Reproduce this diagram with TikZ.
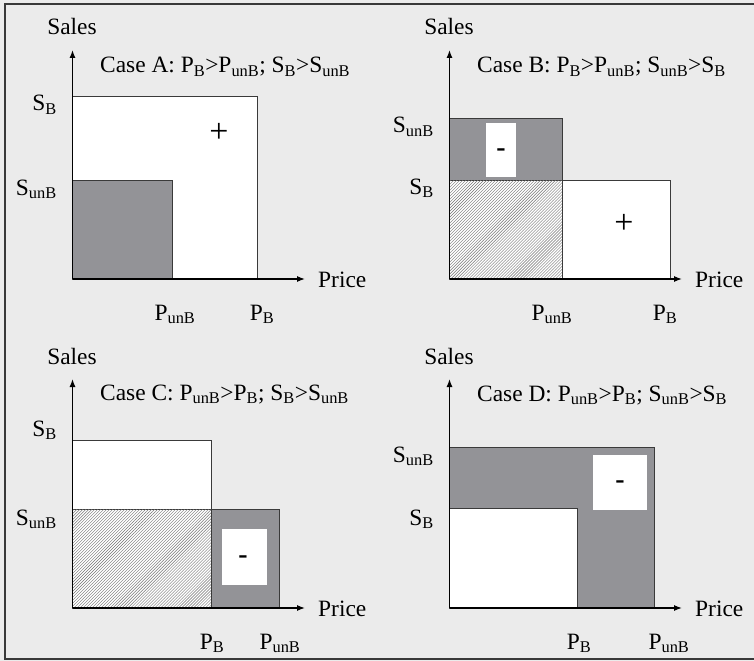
\documentclass[tikz,border=0pt]{standalone}
\usepackage{fontspec}
\setmainfont{Liberation Serif}
\usetikzlibrary{arrows.meta,patterns}

\definecolor{panelbg}{HTML}{EBEBEB}
\definecolor{shade}{HTML}{939397}
\definecolor{edge}{HTML}{3A3A3A}

\newcommand{\PB}{P\textsubscript{B}}
\newcommand{\PunB}{P\textsubscript{unB}}
\newcommand{\SB}{S\textsubscript{B}}
\newcommand{\SunB}{S\textsubscript{unB}}

\tikzset{
  axis/.style={line width=1.2bp, -{Latex[length=8bp,width=6bp]}},
  plainbox/.style={draw=edge, line width=1bp, fill=white},
  shadebox/.style={draw=edge, line width=1bp, fill=shade},
  hatchbox/.style={draw=edge, line width=1bp, fill=white,
    postaction={pattern=north east lines, pattern color=black!55}},
  signbox/.style={fill=white},
  lab/.style={inner sep=0pt, font=\fontsize{23.5}{28}\selectfont},
  plus/.style={inner sep=0pt, font=\fontsize{34}{34}\selectfont},
  minus/.style={inner sep=0pt, font=\fontsize{28}{28}\selectfont\bfseries}
}

\begin{document}
\begin{tikzpicture}[x=1bp, y=-1bp]
\useasboundingbox (0,0) rectangle (754,661);
\fill[panelbg] (0,0) rectangle (754,661);
\draw[gray!45!black, line width=1.5bp] (754,4) -- (5,4) -- (5,659) -- (754,659);

% Case A
\begin{scope}
\draw[plainbox] (72.5,97) rectangle (257,279);
\draw[shadebox] (72.5,180) rectangle (172,279);
\node[plus] (plusA) at (219,133) {+};
\coordinate (oA) at (72.5,279);
\coordinate (yA) at (72.5,50);
\coordinate (xA) at (305,279);
\draw[axis] (oA) -- (yA);
\draw[axis] (oA) -- (xA);
\node[lab, anchor=base] (salesA) at (72,35) {Sales};
\node[lab, anchor=base west] (caseA) at (100,73) {Case A: \PB>\PunB; \SB>\SunB};
\node[lab, anchor=base east] (sbA) at (57,111) {\SB};
\node[lab, anchor=base east] (sunbA) at (57,195) {\SunB};
\node[lab, anchor=base] (punbA) at (175,320) {\PunB};
\node[lab, anchor=base] (pbA) at (262,320) {\PB};
\node[lab, anchor=base west] (priceA) at (318,287) {Price};
\end{scope}

% Case B
\begin{scope}[shift={(377,0)}]
\draw[shadebox] (72.5,119) rectangle (185,180);
\draw[hatchbox] (72.5,180) rectangle (185,279);
\draw[plainbox] (185,180) rectangle (293,279);
\fill[signbox] (109,123) rectangle (139,177);
\node[minus] (minusB) at (124,153) {-};
\node[plus] (plusB) at (247,224) {+};
\coordinate (oB) at (72.5,279);
\coordinate (yB) at (72.5,50);
\coordinate (xB) at (305,279);
\draw[axis] (oB) -- (yB);
\draw[axis] (oB) -- (xB);
\node[lab, anchor=base] (salesB) at (72,35) {Sales};
\node[lab, anchor=base west] (caseB) at (100,73) {Case B: \PB>\PunB; \SunB>\SB};
\node[lab, anchor=base east] (sunbB) at (57,133) {\SunB};
\node[lab, anchor=base east] (sbB) at (57,194) {\SB};
\node[lab, anchor=base] (punbB) at (175,320) {\PunB};
\node[lab, anchor=base] (pbB) at (288,320) {\PB};
\node[lab, anchor=base west] (priceB) at (318,287) {Price};
\end{scope}

% Case C
\begin{scope}[shift={(0,329)}]
\draw[plainbox] (72.5,111) rectangle (211,180);
\draw[hatchbox] (72.5,180) rectangle (211,279);
\draw[shadebox] (211,180) rectangle (279,279);
\fill[signbox] (222,200) rectangle (267,256);
\node[minus] (minusC) at (243,231) {-};
\coordinate (oC) at (72.5,279);
\coordinate (yC) at (72.5,50);
\coordinate (xC) at (305,279);
\draw[axis] (oC) -- (yC);
\draw[axis] (oC) -- (xC);
\node[lab, anchor=base] (salesC) at (72,35) {Sales};
\node[lab, anchor=base west] (caseC) at (100,71) {Case C: \PunB>\PB; \SB>\SunB};
\node[lab, anchor=base east] (sbC) at (57,107) {\SB};
\node[lab, anchor=base east] (sunbC) at (57,196) {\SunB};
\node[lab, anchor=base] (pbC) at (212,320) {\PB};
\node[lab, anchor=base] (punbC) at (280,320) {\PunB};
\node[lab, anchor=base west] (priceC) at (318,287) {Price};
\end{scope}

% Case D
\begin{scope}[shift={(377,329)}]
\draw[shadebox] (72.5,118) rectangle (277,279);
\draw[plainbox] (72.5,179) rectangle (200,279);
\fill[signbox] (216,126) rectangle (270,181);
\node[minus] (minusD) at (243,156) {-};
\coordinate (oD) at (72.5,279);
\coordinate (yD) at (72.5,50);
\coordinate (xD) at (305,279);
\draw[axis] (oD) -- (yD);
\draw[axis] (oD) -- (xD);
\node[lab, anchor=base] (salesD) at (72,35) {Sales};
\node[lab, anchor=base west] (caseD) at (100,72) {Case D: \PunB>\PB; \SunB>\SB};
\node[lab, anchor=base east] (sunbD) at (57,133) {\SunB};
\node[lab, anchor=base east] (sbD) at (57,196) {\SB};
\node[lab, anchor=base] (pbD) at (202,320) {\PB};
\node[lab, anchor=base] (punbD) at (292,320) {\PunB};
\node[lab, anchor=base west] (priceD) at (318,287) {Price};
\end{scope}
\end{tikzpicture}
\end{document}
